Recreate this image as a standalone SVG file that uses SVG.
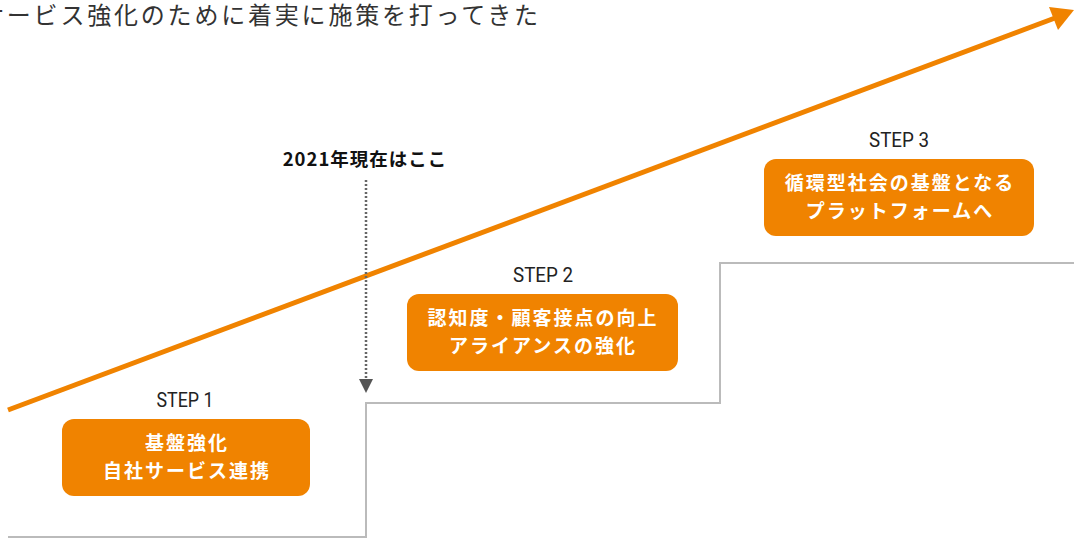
<svg xmlns="http://www.w3.org/2000/svg" width="1074" height="538" viewBox="0 0 1074 538">
<style>
.step{font-family:Roboto,"Noto Sans",sans-serif;font-size:19.5px;fill:#222;text-anchor:middle}
.box rect{fill:#F08300}
.lbl{font-family:"Noto Sans CJK JP",sans-serif;font-size:19px;font-weight:bold;fill:#fff;text-anchor:middle;letter-spacing:2px}
</style>
<text x="-20" y="24" font-family="'Noto Sans CJK JP',sans-serif" font-size="24" font-weight="400" letter-spacing="2.8" fill="#333">サービス強化のために着実に施策を打ってきた</text>
<g id="connectors">
<polyline points="8,537 366,537 366,403 720,403 720,263 1074,263" fill="none" stroke="#bbb" stroke-width="2"/>
<line x1="8" y1="410" x2="1055" y2="18" stroke="#F08300" stroke-width="5"/>
<path d="M1049,7 L1074,10 L1058,30 Z" fill="#F08300"/>
<line x1="366" y1="180" x2="366" y2="381" stroke="#666" stroke-width="2.5" stroke-dasharray="2,2"/>
<path d="M359,379 L373,379 L366,393 Z" fill="#555"/>
</g>
<g id="now"><text x="365" y="166" font-family="'Noto Sans CJK JP',sans-serif" font-size="18.5" font-weight="bold" fill="#111" text-anchor="middle" letter-spacing="1">2021年現在はここ</text></g>
<g id="step1" class="box">
<text class="step" x="185" y="407" textLength="57" lengthAdjust="spacingAndGlyphs">STEP 1</text>
<rect x="62" y="419" width="248" height="77" rx="12"/>
<text class="lbl" x="187" y="450">基盤強化</text>
<text class="lbl" x="187" y="478">自社サービス連携</text>
</g>
<g id="step2" class="box">
<text class="step" x="543" y="282" textLength="60" lengthAdjust="spacingAndGlyphs">STEP 2</text>
<rect x="407" y="294" width="271" height="77" rx="12"/>
<text class="lbl" x="543" y="325">認知度・顧客接点の向上</text>
<text class="lbl" x="543" y="353">アライアンスの強化</text>
</g>
<g id="step3" class="box">
<text class="step" x="899" y="147" textLength="60" lengthAdjust="spacingAndGlyphs">STEP 3</text>
<rect x="764" y="159" width="270" height="77" rx="12"/>
<text class="lbl" x="900" y="190">循環型社会の基盤となる</text>
<text class="lbl" x="900" y="218">プラットフォームへ</text>
</g>
</svg>
